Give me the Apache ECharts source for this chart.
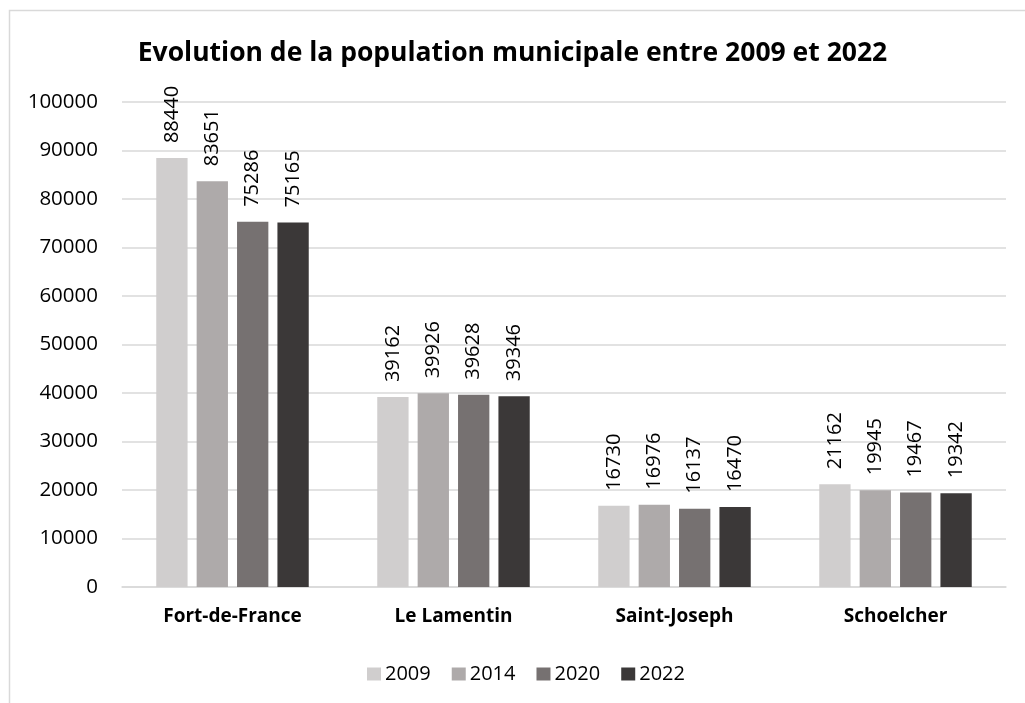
<!DOCTYPE html>
<html>
<head>
<meta charset="utf-8">
<script src="https://cdn.jsdelivr.net/npm/echarts@6/dist/echarts.min.js"></script>
<style>
  html, body { margin: 0; padding: 0; background: #fff; }
  #chart { width: 1025px; height: 703px; }
</style>
</head>
<body>
<div id="chart"></div>
<script>
// données
const communes = ['Fort-de-France', 'Le Lamentin', 'Saint-Joseph', 'Schoelcher']
const annees = ['2009', '2014', '2020', '2022']
const pop2009 = [88440, 39162, 16730, 21162]
const pop2014 = [83651, 39926, 16976, 19945]
const pop2020 = [75286, 39628, 16137, 19467]
const pop2022 = [75165, 39346, 16470, 19342]
const couleurs = ['#D0CECE', '#AEAAAA', '#767171', '#3B3838']

const FONT = '"Open Sans", sans-serif'
const valeurs = [pop2009, pop2014, pop2020, pop2022]

const chart = echarts.init(document.getElementById('chart'))
chart.setOption({
  animation: false,
  textStyle: { fontFamily: FONT },
  title: {
    text: 'Evolution de la population municipale entre 2009 et 2022',
    left: 'center',
    top: 35,
    textStyle: { fontSize: 26.5, fontWeight: 'bold', color: '#000', fontFamily: FONT }
  },
  graphic: [{
    type: 'rect',
    shape: { x: 9.5, y: 10.5, width: 1100, height: 800 },
    style: { fill: 'none', stroke: '#D9D9D9', lineWidth: 1.5 },
    silent: true
  }],
  legend: {
    data: annees,
    left: 362,
    top: 659,
    itemWidth: 14,
    itemHeight: 13,
    itemGap: 21,
    icon: 'rect',
    textStyle: { fontSize: 20, color: '#000', fontFamily: FONT, padding: [0, 0, 0, -1] }
  },
  grid: { left: 122, right: 19, top: 102, bottom: 116 },
  xAxis: {
    type: 'category',
    data: communes,
    axisTick: { show: false },
    axisLine: { lineStyle: { color: '#D9D9D9', width: 1.5 } },
    axisLabel: { fontSize: 19, fontWeight: 'bold', color: '#000', margin: 20, fontFamily: FONT }
  },
  yAxis: {
    type: 'value',
    min: 0,
    max: 100000,
    interval: 10000,
    axisLine: { show: false },
    axisTick: { show: false },
    splitLine: { lineStyle: { color: '#D9D9D9', width: 1.5 } },
    axisLabel: { fontSize: 20.5, color: '#000', margin: 24, fontFamily: FONT, formatter: v => String(v) }
  },
  series: annees.map((a, i) => ({
    name: a,
    type: 'bar',
    data: valeurs[i],
    barGap: '29%',
    barCategoryGap: '31%',
    itemStyle: { color: couleurs[i] },
    label: {
      show: true,
      position: 'top',
      rotate: 90,
      align: 'left',
      verticalAlign: 'middle',
      distance: 15,
      fontSize: 20,
      color: '#000',
      fontFamily: FONT
    }
  }))
})
</script>
</body>
</html>
